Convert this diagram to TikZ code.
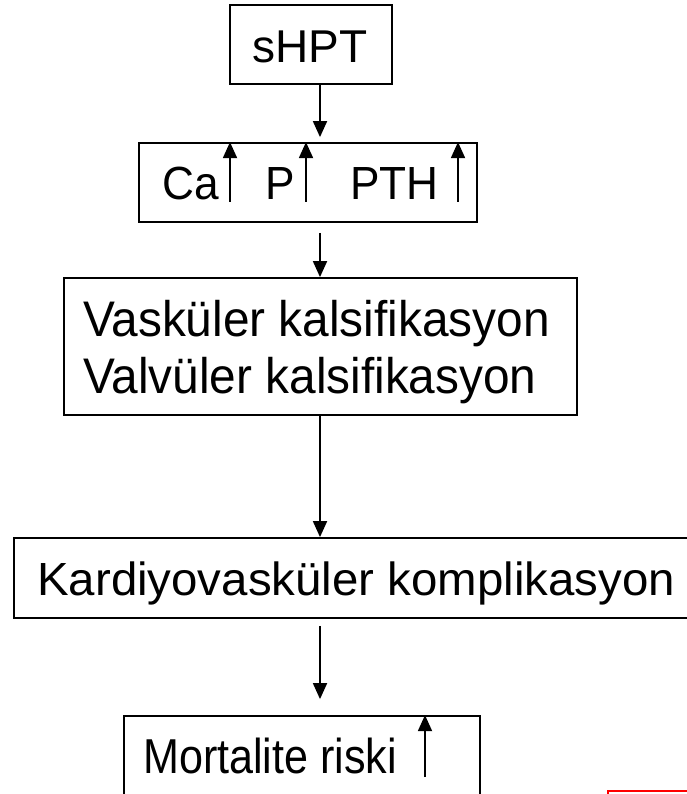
\documentclass[tikz,border=0pt]{standalone}
\usepackage{fontspec}
\setmainfont{Liberation Sans}
\usetikzlibrary{arrows.meta}

\tikzset{
  box/.style={draw, rectangle, line width=1.8pt, inner sep=0pt},
  txt/.style={anchor=base west, inner sep=0pt, font=\fontsize{#1}{#1}\selectfont},
  flow/.style={line width=1.8pt, -{Triangle[width=14pt,length=16pt]}},
}

\begin{document}
\begin{tikzpicture}[x=1pt,y=-1pt]
     \useasboundingbox (0,0) rectangle (686,794);
     \node[box, minimum width=162pt, minimum height=79pt] (shpt) at (311,44.5) {};
     \node[box, minimum width=338pt, minimum height=79pt] (capth) at (308,182.5) {};
     \node[box, minimum width=513pt, minimum height=137pt] (vask) at (320.5,346.5) {};
     \node[box, minimum width=680pt, minimum height=80pt] (kard) at (354,578) {};
     \node[box, minimum width=356pt, minimum height=100pt] (mort) at (302,766) {};
     \node[txt=46] (shpttext) at (252,63) {sHPT};
     \node[txt=46.5] (ca) at (162,200) {\scalebox{0.95}[1]{Ca}};
     \node[txt=46.5] (p) at (265,200) {\scalebox{0.95}[1]{P}};
     \node[txt=46.5] (pth) at (350,200) {\scalebox{0.95}[1]{PTH}};
     \node[txt=50] (vasktext) at (83,336) {\scalebox{0.956}[1]{Vasküler kalsifikasyon}};
     \node[txt=50] (valvtext) at (83,393) {\scalebox{0.956}[1]{Valvüler kalsifikasyon}};
     \node[txt=46.5] (kardtext) at (37,595) {\scalebox{1.02}[1]{Kardiyovasküler komplikasyon}};
     \node[txt=49] (morttext) at (143,773) {\scalebox{0.88}[1]{Mortalite riski}};
     \coordinate (spine) at (320,0);
     \draw[flow, shorten >=5pt] (shpt.south -| spine) -- (capth.north -| spine);
     \draw[flow, shorten <=10pt] (capth.south -| spine) -- (vask.north -| spine);
     \draw[flow] (vask.south -| spine) -- (kard.north -| spine);
     \draw[flow, shorten <=7pt, shorten >=16pt] (kard.south -| spine) -- (mort.north -| spine);
     \coordinate (carise) at (230,202);
     \coordinate (prise) at (306,202);
     \coordinate (pthrise) at (458,202);
     \coordinate (mortrise) at (425,777);
     \draw[flow] (carise) -- (carise |- capth.north);
     \draw[flow] (prise) -- (prise |- capth.north);
     \draw[flow] (pthrise) -- (pthrise |- capth.north);
     \draw[flow] (mortrise) -- (mortrise |- mort.north);
     \draw[red, line width=1.5pt] (700,791) -- (608,791) -- (608,800);
  \end{tikzpicture}
\end{document}
